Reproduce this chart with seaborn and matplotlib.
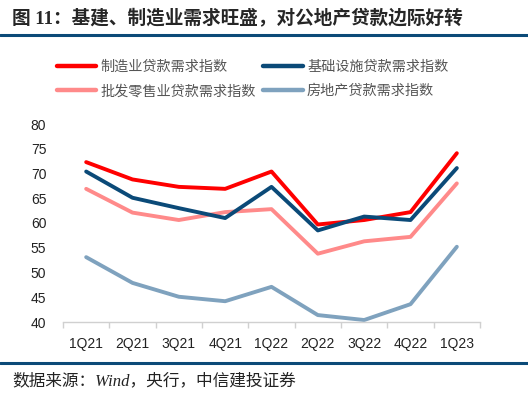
import numpy as np
import pandas as pd
import seaborn as sns
import matplotlib
import matplotlib.pyplot as plt
from matplotlib.lines import Line2D
from matplotlib.ticker import FixedLocator

quarters = ["1Q21", "2Q21", "3Q21", "4Q21", "1Q22", "2Q22", "3Q22", "4Q22", "1Q23"]
manufacturing = [72.3, 68.8, 67.3, 66.9, 70.4, 59.7, 60.6, 62.2, 74.1]
infrastructure = [70.4, 65.1, 63.0, 61.0, 67.3, 58.5, 61.3, 60.6, 71.1]
wholesale_retail = [66.9, 62.1, 60.6, 62.2, 62.8, 53.8, 56.3, 57.2, 68.0]
real_estate = [53.1, 47.9, 45.1, 44.2, 47.1, 41.4, 40.4, 43.6, 55.2]

names = ["制造业贷款需求指数", "基础设施贷款需求指数", "批发零售业贷款需求指数", "房地产贷款需求指数"]
colors = ["#FF0000", "#0B4A78", "#FF8A8A", "#7FA2BE"]

df = pd.DataFrame({"quarter": quarters * 4,
                   "x": list(range(len(quarters))) * 4,
                   "value": manufacturing + infrastructure + wholesale_retail + real_estate,
                   "series": sum([[n] * len(quarters) for n in names], [])})

sns.set_theme(style="white")
plt.rcParams['font.family'] = ['Liberation Sans', 'Noto Sans CJK SC', 'DejaVu Sans']

fig = plt.figure(figsize=(5.28, 3.96), dpi=100)
ax = fig.add_axes([63/528, 1-322/396, (480-63)/528, (322-124)/396])

# draw order: light ones first
order = [names[3], names[2], names[0], names[1]]
sns.lineplot(data=df, x="x", y="value", hue="series", hue_order=order,
             palette=dict(zip(names, colors)), linewidth=2.8, ax=ax, legend=False)

ax.set_xlim(-0.5, len(quarters) - 0.5)
ax.set_ylim(40, 80)
ax.set_yticks(np.arange(40, 81, 5))
ax.set_xticks(range(len(quarters)))
ax.set_xticklabels(quarters)
ax.xaxis.set_minor_locator(FixedLocator(np.arange(-0.5, len(quarters), 1)))
ax.tick_params(axis="x", which="major", length=0, pad=11, labelsize=10, colors="#222222")
ax.tick_params(axis="x", which="minor", bottom=True, length=4, width=1, color="#d0d0d0")
ax.tick_params(axis="y", length=0, pad=12, labelsize=10, colors="#222222")
ax.set_xlabel("")
ax.set_ylabel("")
for s in ["left", "right", "top"]:
    ax.spines[s].set_visible(False)
ax.spines["bottom"].set_color("#d0d0d0")
ax.spines["bottom"].set_linewidth(1)

handles = [Line2D([], [], color=c, lw=3.2) for c in colors]
leg_order = [0, 2, 1, 3]
fig.legend([handles[i] for i in leg_order], [names[i] for i in leg_order],
           ncol=2, loc="upper left", bbox_to_anchor=(44/528, 1-47/396),
           frameon=False, fontsize=10.2, handlelength=2.8, handletextpad=0.3,
           columnspacing=0.5, labelspacing=0.75, labelcolor="#555555")

# header / footer
fig.text(12/528, 1-18/396, "图 11：基建、制造业需求旺盛，对公地产贷款边际好转",
         fontsize=13.4, fontweight="bold", va="center", ha="left",
         family=['Liberation Serif', 'Noto Sans CJK SC'])
fig.add_artist(Line2D([0, 1], [1-35/396, 1-35/396], color="#0B4A78", lw=2.2))
fig.add_artist(Line2D([0, 1], [1-363/396, 1-363/396], color="#0B4A78", lw=2.2))
fig.text(12/528, 1-381/396, "数据来源：Wind，央行，中信建投证券",
         fontsize=12, style="italic", va="center", ha="left", color="#222222",
         family=['Liberation Serif', 'Noto Sans CJK SC'])

fig.savefig("out.png", dpi=100)
